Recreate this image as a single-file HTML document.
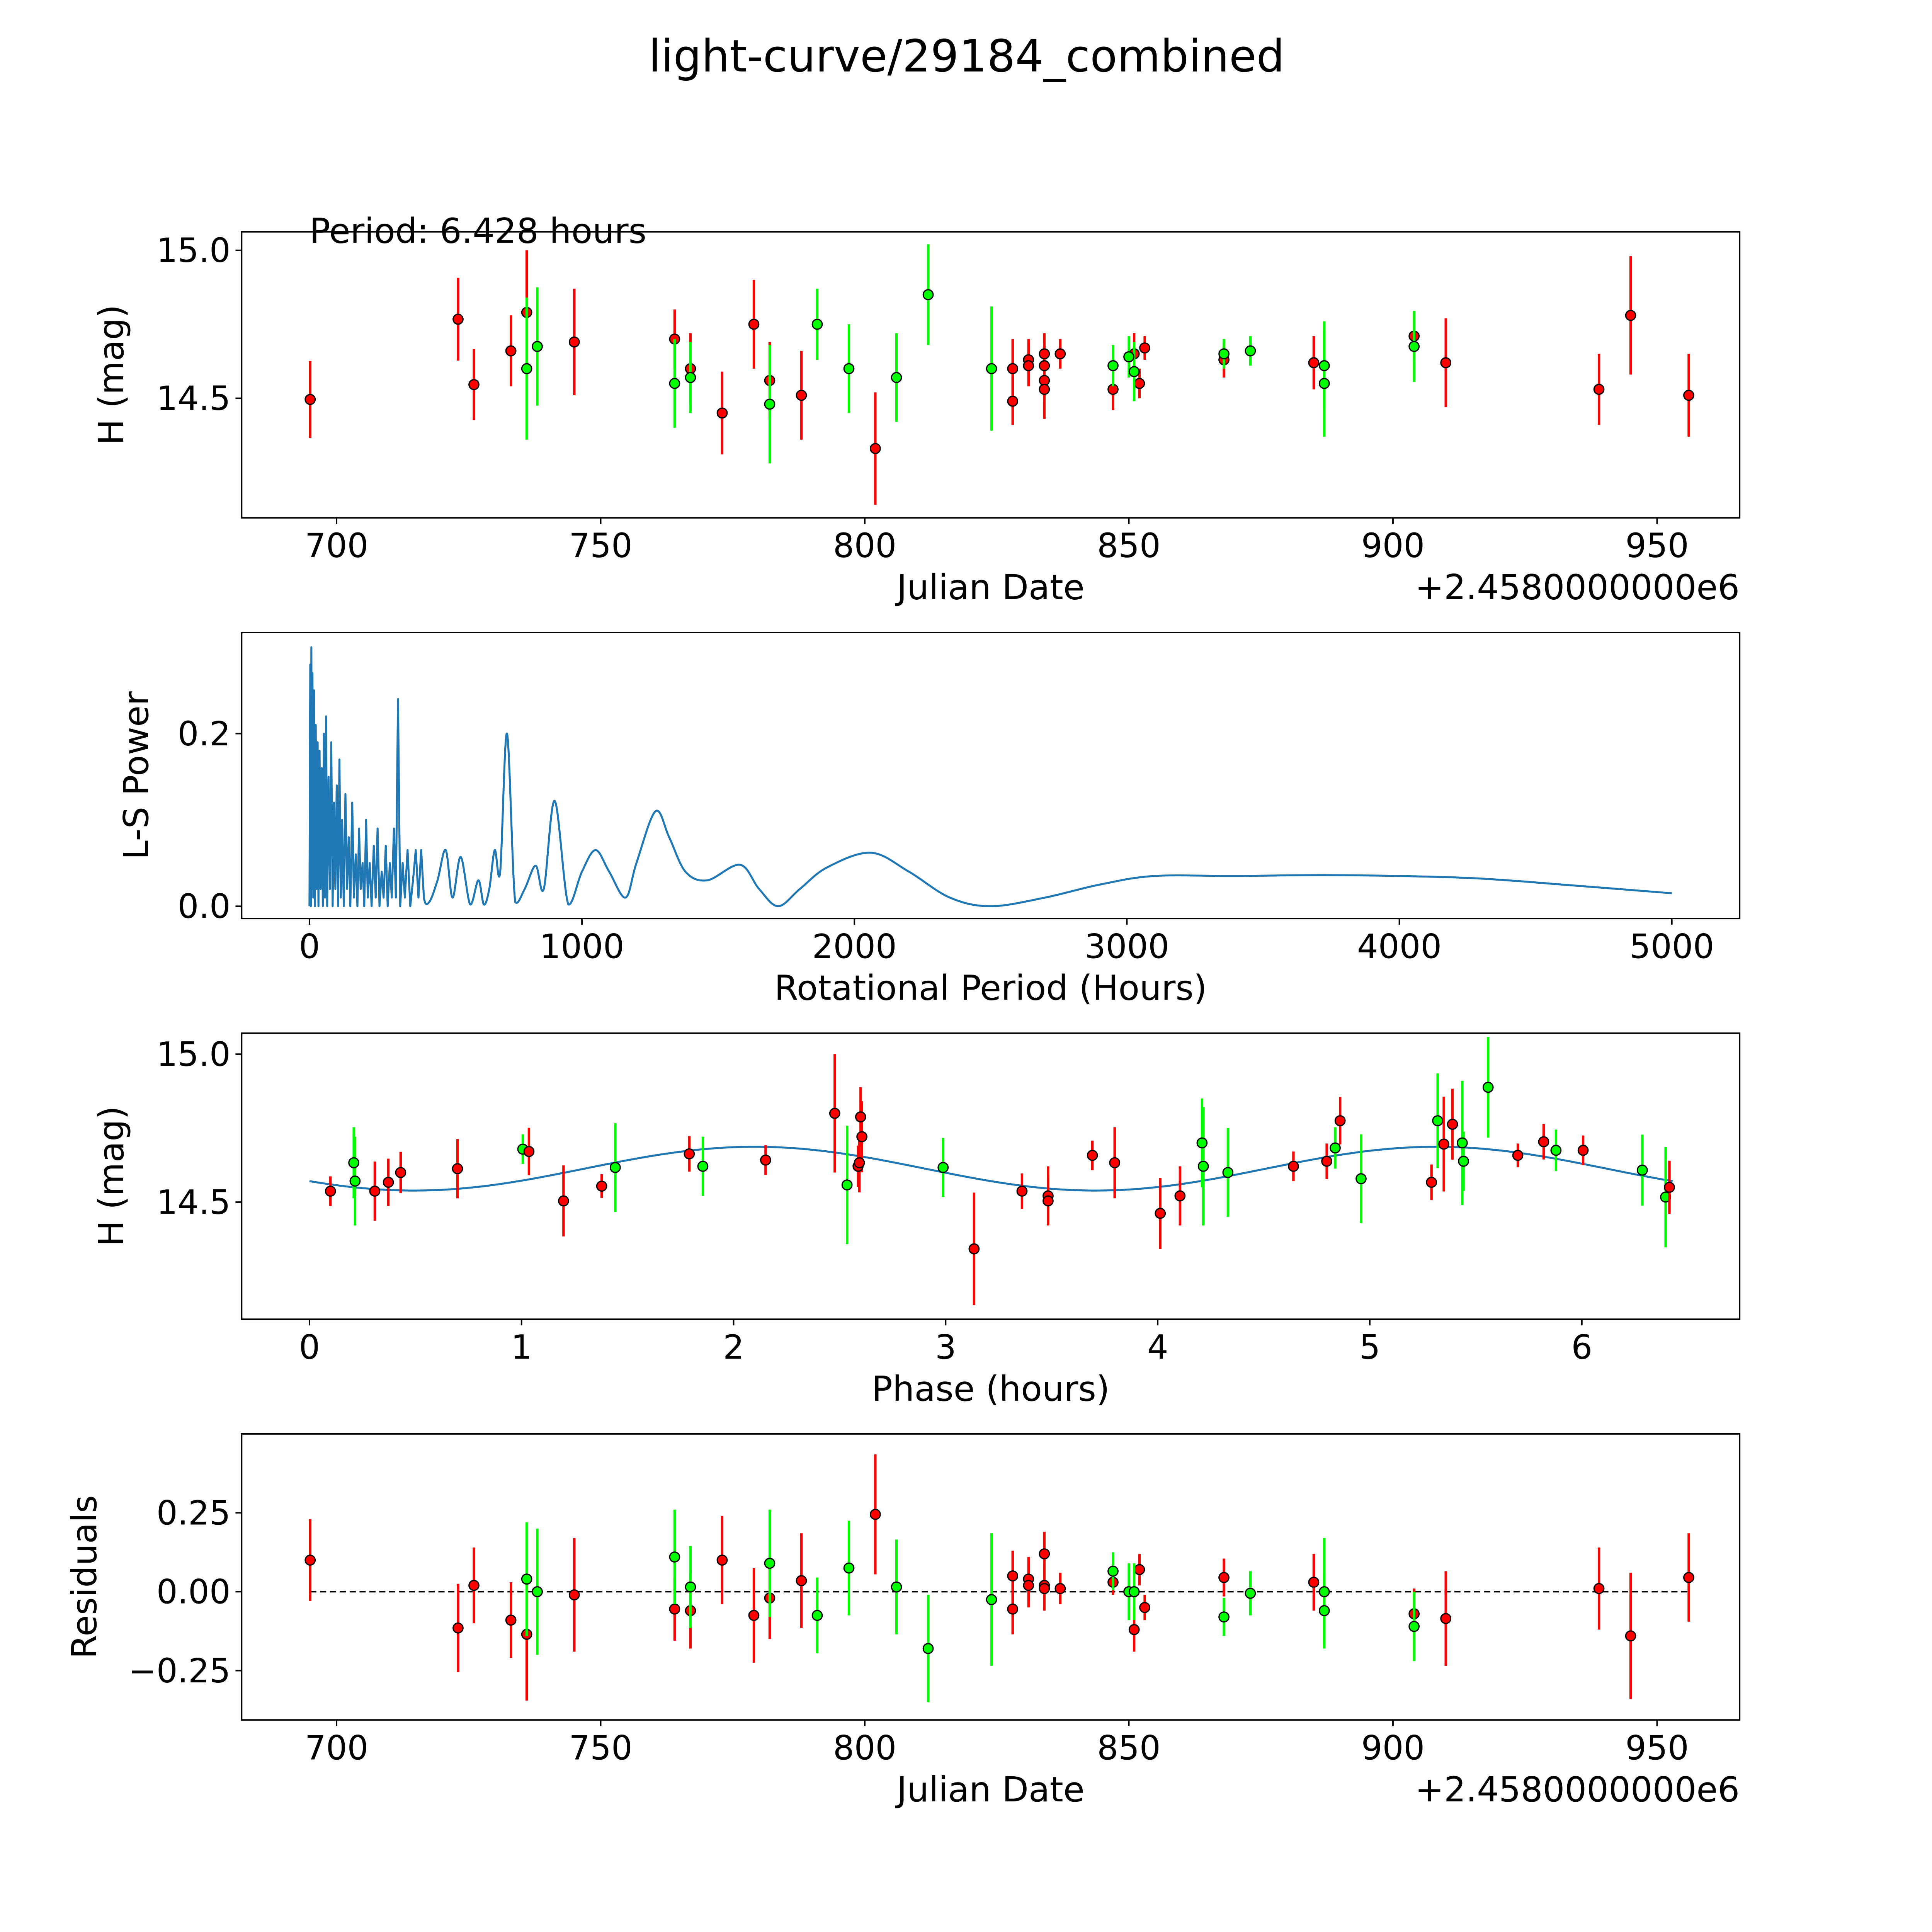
<!DOCTYPE html>
<html><head><meta charset="utf-8">
<style>html,body{margin:0;padding:0;background:#fff;width:100%;height:100%;overflow:hidden}svg{display:block;width:100vw;height:100vh}text{font-family:"DejaVu Sans","Liberation Sans",sans-serif;fill:#000}</style>
</head><body>
<svg id="fig" xmlns="http://www.w3.org/2000/svg" viewBox="0 0 1567 1567" preserveAspectRatio="xMinYMin meet">
<rect width="1567" height="1567" fill="#fff"/>
<text x="784" y="58" font-size="36" text-anchor="middle">light-curve/29184_combined</text>
<g id="p1"></g>
<g id="p2"></g>
<g id="p3"></g>
<g id="p4"></g>
</svg>
<script>
// ---- data ----
const redJD  = [695,723,726,733,736,745,764,767,773,779,782,788,802,828,828,831,831,834,834,834,834,837,847,851,852,853,868,885,904,910,939,945,956];
const redMag = [14.496,14.767,14.546,14.66,14.79,14.69,14.70,14.60,14.45,14.75,14.56,14.51,14.33,14.60,14.49,14.63,14.61,14.65,14.56,14.53,14.61,14.65,14.53,14.65,14.55,14.67,14.63,14.62,14.71,14.62,14.53,14.78,14.51];
const redErr = [0.13,0.14,0.12,0.12,0.21,0.18,0.1,0.12,0.14,0.15,0.13,0.15,0.19,0.1,0.08,0.07,0.07,0.07,0.07,0.1,0.07,0.05,0.07,0.07,0.05,0.04,0.06,0.09,0.08,0.15,0.12,0.2,0.14];
const grnJD  = [736,738,764,767,782,791,797,806,812,824,847,850,851,868,873,887,887,904];
const grnMag = [14.60,14.675,14.55,14.57,14.48,14.75,14.60,14.57,14.85,14.60,14.61,14.64,14.59,14.65,14.66,14.61,14.55,14.675];
const grnErr = [0.24,0.2,0.15,0.12,0.2,0.12,0.15,0.15,0.17,0.21,0.07,0.07,0.1,0.05,0.05,0.15,0.18,0.12];

const lsPeriod = [0,3,5,7,9,11,14,17,20,23,26,30,33,37,41,45,49,53,57,61,65,70,75,80,85,90,95,100,105,110,115,120,126,132,138,144,150,157,163,170,176,182,188,195,201,208,214,221,228,236,243,250,257,265,272,280,287,295,302,310,317,325,333,342,350,360,370,380,390,400,410,420,
  440,470,500,525,555,590,620,640,660,680,700,725,755,790,830,860,900,950,1000,1050,1100,1160,1200,1270,1320,1380,1460,1580,1650,1720,1800,1900,2060,2200,2350,2500,2700,2900,3100,3400,3700,4000,4300,4600,5000];
const lsPower = [0,0.28,0,0.30,0.02,0.27,0.01,0.25,0,0.21,0.02,0.19,0,0.18,0.02,0.16,0,0.2,0.01,0.22,0,0.15,0.02,0.19,0,0.12,0.02,0.14,0,0.17,0.01,0.1,0,0.13,0.02,0.08,0,0.12,0.01,0.06,0,0.09,0.02,0.05,0,0.1,0.01,0.05,0,0.07,0.01,0.09,0,0.04,0.01,0.07,0,0.05,0.01,0.09,0.01,0.24,0,0.05,0.01,0.065,0,0.03,0.065,0.01,0.065,0.01,
  0.005,0.03,0.065,0.01,0.057,0.002,0.03,0.002,0.02,0.065,0.04,0.2,0.005,0.02,0.047,0.02,0.122,0.002,0.04,0.065,0.04,0.01,0.05,0.11,0.08,0.04,0.03,0.048,0.02,0,0.02,0.045,0.062,0.04,0.01,0,0.01,0.025,0.035,0.035,0.036,0.035,0.032,0.025,0.015];

const phRed = [0.099,0.308,0.372,0.430,0.698,1.035,1.198,1.378,1.791,2.151,2.477,2.587,2.593,2.599,2.605,3.134,3.360,3.483,3.483,3.692,3.797,4.012,4.105,4.640,4.797,4.860,5.291,5.349,5.390,5.698,5.820,6.006,6.413];
const phRedMag = [14.537,14.537,14.567,14.600,14.613,14.671,14.504,14.554,14.663,14.642,14.800,14.621,14.633,14.788,14.721,14.342,14.537,14.521,14.504,14.658,14.633,14.462,14.521,14.621,14.638,14.775,14.567,14.696,14.763,14.658,14.704,14.675,14.550];
const phGrn = [0.209,0.215,1.006,1.442,1.855,2.535,2.988,4.209,4.215,4.331,4.837,4.959,5.320,5.436,5.442,5.558,5.878,6.285,6.395];
const phGrnMag = [14.633,14.571,14.679,14.617,14.621,14.558,14.617,14.700,14.621,14.600,14.683,14.579,14.775,14.700,14.638,14.888,14.675,14.608,14.517];
const phRedErr = [0.05,0.1,0.08,0.07,0.1,0.08,0.12,0.04,0.06,0.05,0.2,0.07,0.1,0.1,0.12,0.19,0.06,0.1,0.08,0.05,0.12,0.12,0.1,0.05,0.06,0.08,0.06,0.16,0.12,0.04,0.06,0.05,0.09];
const phGrnErr = [0.12,0.15,0.05,0.15,0.1,0.2,0.1,0.15,0.2,0.15,0.07,0.15,0.16,0.21,0.1,0.17,0.07,0.12,0.17];

const resRedJD = [695,723,726,733,736,745,764,767,773,779,782,788,802,828,828,831,831,834,834,834,837,847,851,852,853,868,885,904,910,939,945,956];
const resRed = [0.10,-0.115,0.02,-0.09,-0.135,-0.01,-0.055,-0.06,0.1,-0.075,-0.02,0.035,0.245,0.05,-0.055,0.04,0.02,0.12,0.02,0.01,0.01,0.03,-0.12,0.07,-0.05,0.045,0.03,-0.07,-0.085,0.01,-0.14,0.045];
const resRedErr = [0.13,0.14,0.12,0.12,0.21,0.18,0.1,0.12,0.14,0.15,0.13,0.15,0.19,0.08,0.08,0.07,0.07,0.07,0.07,0.07,0.05,0.04,0.07,0.05,0.04,0.06,0.09,0.08,0.15,0.13,0.2,0.14];
const resGrnJD = [736,738,764,767,782,791,797,806,812,824,847,850,851,868,873,887,887,904];
const resGrn = [0.04,0,0.11,0.015,0.09,-0.075,0.075,0.015,-0.18,-0.025,0.065,0,0,-0.08,-0.005,0,-0.06,-0.11];
const resGrnErr = [0.18,0.2,0.15,0.13,0.17,0.12,0.15,0.15,0.17,0.21,0.06,0.09,0.09,0.06,0.07,0.17,0.12,0.11];

const xTicksJD = [700,750,800,850,900,950];
const xTicksP = [0,1000,2000,3000,4000,5000];
const xTicksPh = [0,1,2,3,4,5,6];

// ---- helpers ----
const NS='http://www.w3.org/2000/svg';
function mk(parent,tag,attrs,text){const e=document.createElementNS(NS,tag);for(const k in attrs)e.setAttribute(k,attrs[k]);if(text!==undefined)e.textContent=text;parent.appendChild(e);return e;}
const L=196,R=1411;
function lin(d0,d1,r0,r1){return v=>r0+(v-d0)*(r1-r0)/(d1-d0);}
function frame(g,top,bot,xs,xt,xl,ys,yt,yl,ylabel,xlabel,ylx,offset){
  const ax=mk(g,'rect',{x:L,y:top,width:R-L,height:bot-top,fill:'none',stroke:'#000','stroke-width':1.2});
  
  
  xt.forEach((t,i)=>{const x=xs(t);mk(g,'line',{x1:x,x2:x,y1:bot,y2:bot+5,stroke:'#000','stroke-width':1.2});
    const tx=mk(g,'text',{x:x,y:bot+32,'font-size':27,'text-anchor':'middle'},xl[i]);
    
    });
  yt.forEach((t,i)=>{const y=ys(t);mk(g,'line',{x1:L-5,x2:L,y1:y,y2:y,stroke:'#000','stroke-width':1.2});
    const tx=mk(g,'text',{x:L-9,y:y+9.5,'font-size':27,'text-anchor':'end'},yl[i]);
    
    });
  const xa=mk(g,'text',{x:(L+R)/2,y:bot+66,'font-size':28,'text-anchor':'middle'},xlabel);
  
  
  const cy=(top+bot)/2;
  const ya=mk(g,'text',{x:ylx,y:cy,'font-size':28,'text-anchor':'middle',transform:`rotate(-90 ${ylx} ${cy})`},ylabel);
  
  
  if(offset){const o=mk(g,'text',{x:R,y:bot+66,'font-size':28,'text-anchor':'end'},offset);
    
    }
}
function errpts(g,xsA,ysA,errA,xs,ys,col,name){
  xsA.forEach((v,i)=>{const x=xs(v);
    const l=mk(g,'line',{x1:x,x2:x,y1:ys(ysA[i]-errA[i]),y2:ys(ysA[i]+errA[i]),stroke:col,'stroke-width':2});
    
    });
  xsA.forEach((v,i)=>{
    const c=mk(g,'circle',{cx:xs(v),cy:ys(ysA[i]),r:4,fill:col,stroke:'#000','stroke-width':1});
    
    });
}
const RED='#ff0000',GRN='#00ff00';

// Panel 1
(function(){const g=document.getElementById('p1');
  const xs=lin(700,950,273,1344), ys=lin(15,14.5,203,323);
  frame(g,188,420,xs,xTicksJD,xTicksJD.map(String),ys,[14.5,15.0],['14.5','15.0'],'H (mag)','Julian Date',100,'+2.4580000000e6');
  errpts(g,redJD,redMag,redErr,xs,ys,RED,'red-band');
  errpts(g,grnJD,grnMag,grnErr,xs,ys,GRN,'green-band');
  const t=mk(g,'text',{x:251,y:197,'font-size':28},'Period: 6.428 hours');
  
  
})();

// Panel 2
(function(){const g=document.getElementById('p2');
  const xs=lin(0,5000,251,1356), ys=lin(0,0.2,735,595);
  frame(g,513,745,xs,xTicksP,xTicksP.map(String),ys,[0,0.2],['0.0','0.2'],'L-S Power','Rotational Period (Hours)',120);
  const P=lsPeriod.map((p,i)=>[xs(p),ys(lsPower[i])]);
  let d='M'+P[0][0]+' '+P[0][1];
  for(let i=1;i<P.length;i++){
    if(lsPeriod[i]<=430){d+=' L'+P[i][0]+' '+P[i][1];}
    else{const p0=P[i-2]||P[i-1],p1=P[i-1],p2=P[i],p3=P[i+1]||P[i];
      const c1=[p1[0]+(p2[0]-p0[0])/6,p1[1]+(p2[1]-p0[1])/6],c2=[p2[0]-(p3[0]-p1[0])/6,p2[1]-(p3[1]-p1[1])/6];
      d+=` C${c1[0]} ${Math.min(c1[1],735)} ${c2[0]} ${Math.min(c2[1],735)} ${p2[0]} ${p2[1]}`;}
  }
  const pl=mk(g,'path',{d:d,fill:'none',stroke:'#1f77b4','stroke-width':1.6,'stroke-linejoin':'round'});
  
  
})();

// Panel 3
(function(){const g=document.getElementById('p3');
  const xs=lin(0,6,251,1283), ys=lin(15,14.5,855,975);
  frame(g,838,1070,xs,xTicksPh,xTicksPh.map(String),ys,[14.5,15.0],['14.5','15.0'],'H (mag)','Phase (hours)',100);
  let d='';
  for(let i=0;i<=200;i++){const ph=6.428*i/200;const m=14.613+0.074*Math.cos(2*Math.PI*(ph-2.1)/3.214);
    d+=(i?' L':'M')+xs(ph).toFixed(2)+' '+ys(m).toFixed(2);}
  const c=mk(g,'path',{d:d,fill:'none',stroke:'#1f77b4','stroke-width':1.6});
  
  
  errpts(g,phGrn,phGrnMag,phGrnErr,xs,ys,GRN,'green-phase');
  errpts(g,phRed,phRedMag,phRedErr,xs,ys,RED,'red-phase');
})();

// Panel 4
(function(){const g=document.getElementById('p4');
  const xs=lin(700,950,273,1344), ys=lin(0,0.25,1291,1227);
  frame(g,1163,1395,xs,xTicksJD,xTicksJD.map(String),ys,[-0.25,0,0.25],['\u22120.25','0.00','0.25'],'Residuals','Julian Date',78,'+2.4580000000e6');
  const z=mk(g,'line',{x1:xs(695),x2:xs(956),y1:ys(0),y2:ys(0),stroke:'#000','stroke-width':1.2,'stroke-dasharray':'5 3'});
  
  
  errpts(g,resRedJD,resRed,resRedErr,xs,ys,RED,'red-residual');
  errpts(g,resGrnJD,resGrn,resGrnErr,xs,ys,GRN,'green-residual');
})();
</script>
</body></html>
